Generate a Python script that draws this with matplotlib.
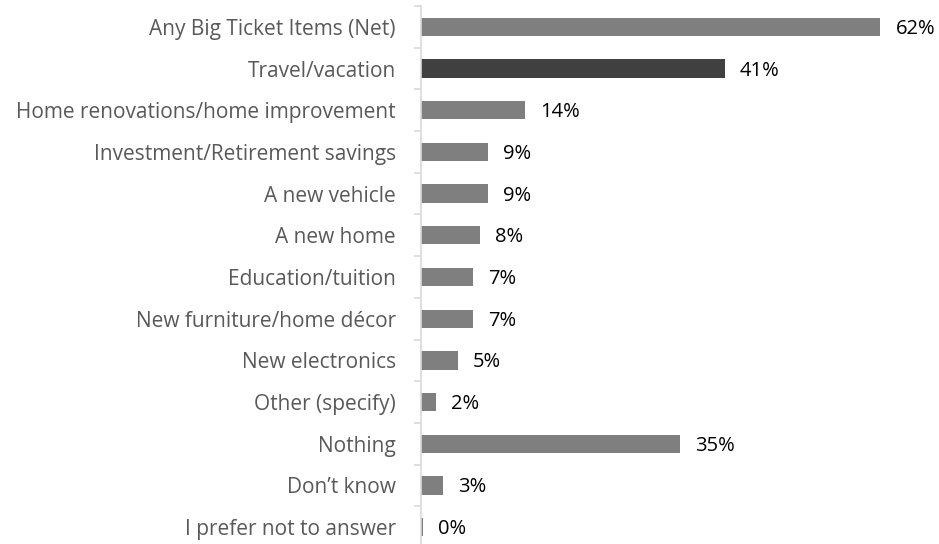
import matplotlib.pyplot as plt

plt.rcParams['font.family'] = ['Open Sans', 'DejaVu Sans']

categories = [
    "Any Big Ticket Items (Net)",
    "Travel/vacation",
    "Home renovations/home improvement",
    "Investment/Retirement savings",
    "A new vehicle",
    "A new home",
    "Education/tuition",
    "New furniture/home décor",
    "New electronics",
    "Other (specify)",
    "Nothing",
    "Don\u2019t know",
    "I prefer not to answer",
]
values = [62, 41, 14, 9, 9, 8, 7, 7, 5, 2, 35, 3, 0.3]
value_labels = ["62%", "41%", "14%", "9%", "9%", "8%", "7%", "7%", "5%", "2%", "35%", "3%", "0%"]
highlight = "Travel/vacation"

colors = ["#404040" if c == highlight else "#7f7f7f" for c in categories]

fig = plt.figure(figsize=(9.39, 5.44), dpi=100)
ax = fig.add_axes([0.4483, -0.0074, 0.5525, 0.9964])

y = list(range(len(categories)))
ax.barh(y, values, height=0.44, color=colors, align="center")
ax.set_ylim(len(categories) - 0.5, -0.5)
ax.set_xlim(0, 70)

for yi, v, lab in zip(y, values, value_labels):
    ax.annotate(lab, (v, yi), xytext=(15, -2), textcoords="offset pixels",
                va="center", ha="left", fontsize=14.5, color="#000000")

ax.set_yticks([i - 0.5 for i in range(len(categories) + 1)])
ax.set_yticklabels([])
ax.set_yticks(y, minor=True)
ax.set_yticklabels(categories, minor=True, fontsize=15, color="#595959")
ax.tick_params(axis="y", which="major", length=5, color="#d9d9d9", width=1.2)
ax.tick_params(axis="y", which="minor", length=0, pad=18)
ax.set_xticks([])

for s in ["top", "right", "bottom"]:
    ax.spines[s].set_visible(False)
ax.spines["left"].set_color("#d9d9d9")
ax.spines["left"].set_linewidth(1.2)

fig.savefig("out.png", dpi=100)
